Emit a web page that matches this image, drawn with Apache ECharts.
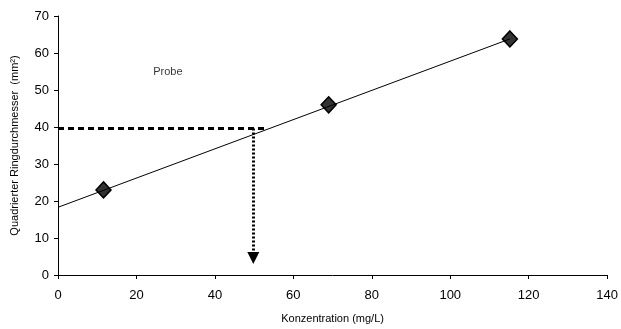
<!DOCTYPE html>
<html><head><meta charset="utf-8">
<script src="https://cdn.jsdelivr.net/npm/echarts@6/dist/echarts.min.js"></script>
<style>html,body{margin:0;padding:0;background:#fff}#c{width:621px;height:329px}</style>
</head><body><div id="c"></div>
<script>
// measured points (Konzentration mg/L, Quadrierter Ringdurchmesser mm²)
const pointsX = [11.6, 69, 115.2];
const pointsY = [23, 46, 63.8];
// trend line endpoints
const trendX = [0, 115.2];
const trendY = [18.3, 63.8];
// sample (Probe) reading
const probeY = 39.6;
const probeHorizX = [0, 53.2];
const probeX = 49.8;
const probeArrowEndY = 4.6;
const probeLabel = { x: 28, y: 55, text: 'Probe' };
const xTicks = { min: 0, max: 140, interval: 20 };
const yTicks = { min: 0, max: 70, interval: 10 };

const font = 'Liberation Sans, Arial, sans-serif';
const chart = echarts.init(document.getElementById('c'), null, { renderer: 'canvas' });
chart.setOption({
  animation: false,
  grid: { left: 58, right: 13, top: 16, bottom: 53 },
  xAxis: {
    type: 'value', min: xTicks.min, max: xTicks.max, interval: xTicks.interval,
    name: 'Konzentration (mg/L)', nameLocation: 'middle', nameGap: 38,
    nameTextStyle: { fontFamily: font, fontSize: 11, color: '#000' },
    axisLine: { lineStyle: { color: '#000', width: 1 } },
    axisTick: { length: 4, lineStyle: { color: '#000' } },
    axisLabel: { fontFamily: font, fontSize: 13, color: '#000', margin: 14 },
    splitLine: { show: false }
  },
  yAxis: {
    type: 'value', min: yTicks.min, max: yTicks.max, interval: yTicks.interval,
    name: 'Quadrierter Ringdurchmesser  (mm²)', nameLocation: 'middle', nameGap: 38, nameRotate: 90,
    nameTextStyle: { fontFamily: font, fontSize: 11, color: '#000' },
    axisLine: { show: true, lineStyle: { color: '#000', width: 1 } },
    axisTick: { show: true, length: 4, lineStyle: { color: '#000' } },
    axisLabel: { fontFamily: font, fontSize: 13, color: '#000', margin: 9 },
    splitLine: { show: false }
  },
  series: [
    {
      type: 'scatter', z: 2,
      data: pointsX.map((x, i) => [x, pointsY[i]]),
      symbol: 'diamond', symbolSize: [15, 16],
      itemStyle: { color: '#333', borderColor: '#000', borderWidth: 1.5, opacity: 1 }
    },
    {
      type: 'line', z: 3,
      data: trendX.map((x, i) => [x, trendY[i]]),
      symbol: 'none', lineStyle: { color: '#000', width: 1 }
    },
    {
      type: 'line', z: 4,
      data: probeHorizX.map(x => [x, probeY]),
      symbol: 'none', lineStyle: { color: '#000', width: 3, type: [6, 4] }
    },
    {
      type: 'line', z: 4,
      data: [],
      markLine: {
        silent: true,
        symbol: ['none', 'triangle'], symbolSize: 12,
        label: { show: false },
        lineStyle: { color: '#000', width: 3, type: [2, 2] },
        data: [[{ coord: [probeX, probeY] }, { coord: [probeX, probeArrowEndY] }]]
      }
    },
    {
      type: 'scatter', z: 5,
      data: [[probeLabel.x, probeLabel.y]],
      symbolSize: 0,
      label: { show: true, position: 'inside', formatter: probeLabel.text, fontFamily: font, fontSize: 11, color: '#000' }
    }
  ]
});
</script></body></html>
